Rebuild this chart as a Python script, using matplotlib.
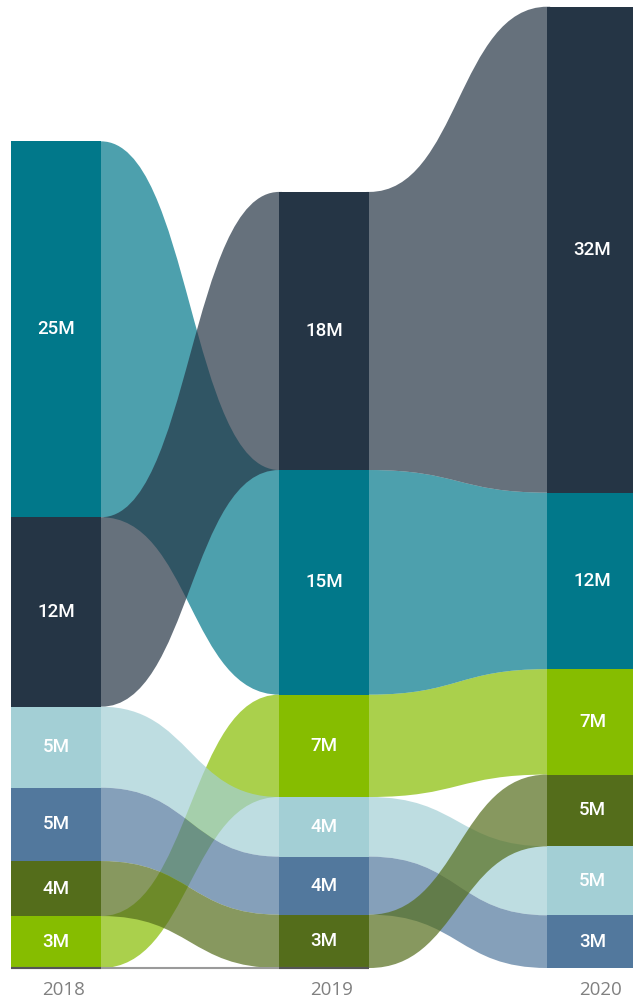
import matplotlib.pyplot as plt
from matplotlib.path import Path
from matplotlib.patches import PathPatch

# Ribbon chart data (values in millions), drawn in this order (first = bottom)
years = ['2018', '2019', '2020']
series = ['Lime', 'Teal', 'Navy', 'Light Blue', 'Steel Blue', 'Olive']
values_lime = [3.4, 6.7, 6.9]
values_teal = [24.6, 14.7, 11.55]
values_navy = [12.4, 18.2, 31.8]
values_light_blue = [5.3, 3.9, 4.51]
values_steel_blue = [4.8, 3.8, 3.45]
values_olive = [3.6, 3.49, 4.7]

bar_colors = ['#86BD00', '#01788A', '#253545', '#A3CFD5', '#52789D', '#546D1B']
ribbon_alpha = 0.7

values = [values_lime, values_teal, values_navy,
          values_light_blue, values_steel_blue, values_olive]

fig = plt.figure(figsize=(6.33, 10.02), dpi=100)
ax = fig.add_axes([0, 0, 1, 1])
ax.set_xlim(-0.2088, 2.151)
ax.set_ylim(-2.225, 63.35)
ax.axis('off')

bar_w = 0.3355
xs = list(range(len(years)))

# stack each column: largest on top
bottoms = []
for j in range(len(years)):
    order = sorted(range(len(series)), key=lambda k: values[k][j])
    col = {}
    y = 0.0
    for k in order:
        col[k] = (y, y + values[k][j])
        y += values[k][j]
    bottoms.append(col)

# ribbons between columns (tucked slightly under the bars to avoid seams)
eps = 0.01
for k in range(len(series)):
    for j in range(len(years) - 1):
        x0 = xs[j] + bar_w / 2
        x1 = xs[j + 1] - bar_w / 2
        xm = (x0 + x1) / 2
        b0, t0 = bottoms[j][k]
        b1, t1 = bottoms[j + 1][k]
        verts = [(x0 - eps, t0), (x0, t0), (xm, t0), (xm, t1), (x1, t1),
                 (x1 + eps, t1), (x1 + eps, b1), (x1, b1),
                 (xm, b1), (xm, b0), (x0, b0), (x0 - eps, b0), (x0 - eps, t0)]
        codes = [Path.MOVETO, Path.LINETO, Path.CURVE4, Path.CURVE4, Path.CURVE4,
                 Path.LINETO, Path.LINETO, Path.LINETO,
                 Path.CURVE4, Path.CURVE4, Path.CURVE4, Path.LINETO, Path.CLOSEPOLY]
        ax.add_patch(PathPatch(Path(verts, codes), facecolor=bar_colors[k],
                               alpha=ribbon_alpha, edgecolor='none', zorder=1))

# bars and value labels
for j in range(len(years)):
    for k in range(len(series)):
        b, t = bottoms[j][k]
        ax.bar(xs[j], t - b, bottom=b, width=bar_w, color=bar_colors[k],
               linewidth=0, zorder=2)
        ax.text(xs[j], (b + t) / 2, f"{values[k][j]:.0f}M", ha='center', va='center',
                color='white', fontsize=13.5, fontweight='medium',
                family='Roboto', zorder=3)

# baseline under the first two columns
ax.plot([xs[0] - bar_w / 2, xs[1] + bar_w / 2], [0, 0], color='#9a9a9a', lw=1.5,
        zorder=4, solid_capstyle='butt')
for j in range(2):
    ax.plot([xs[j] - bar_w / 2, xs[j] + bar_w / 2], [0, 0], color='#555555', lw=1.5,
            zorder=4, solid_capstyle='butt')

# year labels
for j, yr in enumerate(years):
    ax.annotate(yr, (xs[j], 0), xytext=(5.5, -16), textcoords='offset points',
                ha='center', va='center', color='#808080', fontsize=13.5,
                family='Open Sans')

fig.savefig('out.png', dpi=100)
